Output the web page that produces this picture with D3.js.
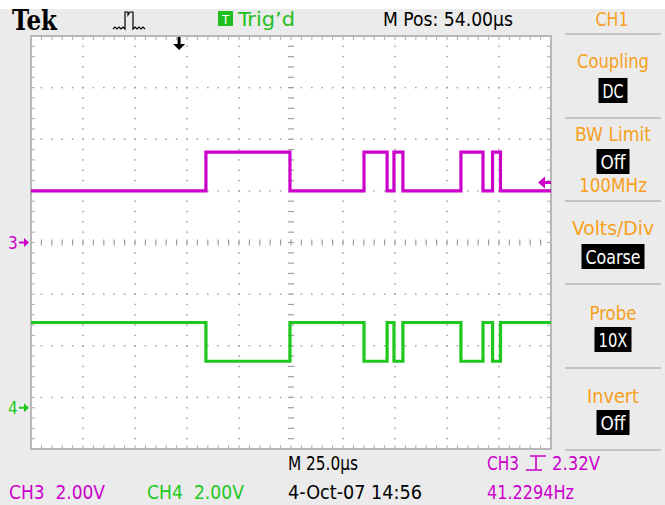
<!DOCTYPE html>
<html>
<head>
<meta charset="utf-8">
<script src="https://cdn.jsdelivr.net/npm/d3@7"></script>
<style>
  body { margin: 0; background: #fff; }
  svg { display: block; }
  text { font-family: "Liberation Sans Narrow", "DejaVu Sans Condensed", "Roboto Condensed", "Liberation Sans", Arial, sans-serif; white-space: pre; }
</style>
</head>
<body>
<svg id="scope" width="665" height="505"></svg>
<script>
// horizontal: microseconds from left edge of the screen, 25 us/div, 10 div
const timeDomain = [0, 250];
const timePerDiv = 25;
// vertical: divisions from the centre line
const divDomain = [-4, 4];
const voltsPerDiv = 2.0;
const ch3Offset = 0;      // ground marker "3", in divisions
const ch4Offset = -3.2;   // ground marker "4"

// edges (us) and the level that follows each edge (V)
const ch3Times = [0, 84.1, 124.5, 160.1, 171.2, 174.5, 178.8, 206.7, 217.3, 221.9, 225.7, 250];
const ch3Volts = [2.0, 3.5, 2.0, 3.5, 2.0, 3.5, 2.0, 3.5, 2.0, 3.5, 2.0, 2.0];
const ch4Times = [0, 84.1, 124.5, 160.1, 171.2, 174.5, 178.8, 206.7, 217.3, 221.9, 225.7, 250];
const ch4Volts = [3.3, 1.8, 3.3, 1.8, 3.3, 1.8, 3.3, 1.8, 3.3, 1.8, 3.3, 3.3];

const triggerTime = 71.2;
const triggerLevel = 2.32;

const menuTitles = ["Coupling", "BW Limit", "Volts/Div", "Probe", "Invert"];
const menuValues = ["DC", "Off", "Coarse", "10X", "Off"];

const MAGENTA = "#cc00cc", GREEN = "#1ec81e", ORANGE = "#f7a01c", GRID = "#a0a0a0";

const svg = d3.select("#scope");
const W = 665, H = 505;
const scrLeft = 31, scrRight = 551, scrTop = 36, scrBottom = 449;

svg.append("rect").attr("width", W).attr("height", H).attr("fill", "#ebebeb");
svg.append("rect").attr("width", W).attr("height", 9).attr("fill", "#fff");

const x = d3.scaleLinear().domain(timeDomain).range([scrLeft, scrRight]);
const y = d3.scaleLinear().domain(divDomain).range([scrBottom, scrTop]);
const ch3Y = v => y(v / voltsPerDiv + ch3Offset);
const ch4Y = v => y(v / voltsPerDiv + ch4Offset);

// screen
svg.append("rect").attr("x", scrLeft).attr("y", scrTop)
    .attr("width", scrRight - scrLeft).attr("height", scrBottom - scrTop)
    .attr("fill", "#fff").attr("stroke", "#b8b8b8").attr("stroke-width", 2);

// grid: dots along every major line, dashes on the centre cross, ticks on the border
const grid = svg.append("g");
const xMinor = d3.range(0, 250.01, timePerDiv / 5);
const yMinor = d3.range(-4, 4.01, 0.2).map(d => Math.round(d * 10) / 10);
const xMajor = d3.range(1, 10).map(d => d * timePerDiv);
const yMajor = [-3, -2, -1, 1, 2, 3];

yMajor.forEach(r => {
    grid.selectAll(null).data(xMinor.slice(1, -1)).enter().append("rect")
        .attr("x", d => x(d) - 0.75).attr("y", y(r) - 0.75)
        .attr("width", 1.5).attr("height", 1.5).attr("fill", GRID);
});
xMajor.filter(d => d !== 125).forEach(c => {
    grid.selectAll(null).data(yMinor.slice(1, -1)).enter().append("rect")
        .attr("x", x(c) - 0.75).attr("y", d => y(d) - 0.75)
        .attr("width", 1.5).attr("height", 1.5).attr("fill", GRID);
});
// centre cross
grid.selectAll(null).data(yMinor.slice(1, -1)).enter().append("line")
    .attr("x1", x(125) - 3).attr("x2", x(125) + 3)
    .attr("y1", d => y(d)).attr("y2", d => y(d))
    .attr("stroke", GRID).attr("stroke-width", 1.2);
grid.selectAll(null).data(xMinor.slice(1, -1)).enter().append("line")
    .attr("x1", d => x(d)).attr("x2", d => x(d))
    .attr("y1", y(0) - 3).attr("y2", y(0) + 3)
    .attr("stroke", GRID).attr("stroke-width", 1.2);
// border ticks
grid.selectAll(null).data(xMinor.slice(1, -1)).enter().append("line")
    .attr("x1", d => x(d)).attr("x2", d => x(d))
    .attr("y1", scrTop).attr("y2", scrTop + 4)
    .attr("stroke", "#b8b8b8").attr("stroke-width", 1.2);
grid.selectAll(null).data(xMinor.slice(1, -1)).enter().append("line")
    .attr("x1", d => x(d)).attr("x2", d => x(d))
    .attr("y1", scrBottom).attr("y2", scrBottom - 4)
    .attr("stroke", "#b8b8b8").attr("stroke-width", 1.2);
grid.selectAll(null).data(yMinor.slice(1, -1)).enter().append("line")
    .attr("x1", scrLeft).attr("x2", scrLeft + 4)
    .attr("y1", d => y(d)).attr("y2", d => y(d))
    .attr("stroke", "#b8b8b8").attr("stroke-width", 1.2);
grid.selectAll(null).data(yMinor.slice(1, -1)).enter().append("line")
    .attr("x1", scrRight).attr("x2", scrRight - 4)
    .attr("y1", d => y(d)).attr("y2", d => y(d))
    .attr("stroke", "#b8b8b8").attr("stroke-width", 1.2);

// traces
const ch3Line = d3.line().curve(d3.curveStepAfter)
    .x((d, i) => x(ch3Times[i])).y(d => ch3Y(d));
const ch4Line = d3.line().curve(d3.curveStepAfter)
    .x((d, i) => x(ch4Times[i])).y(d => ch4Y(d));

svg.append("path").datum(ch3Volts).attr("d", ch3Line)
    .attr("fill", "none").attr("stroke", MAGENTA).attr("stroke-width", 3.2);
svg.append("path").datum(ch4Volts).attr("d", ch4Line)
    .attr("fill", "none").attr("stroke", GREEN).attr("stroke-width", 3.2);

// trigger position arrow (top) and trigger level arrow (right)
const tx = x(triggerTime);
svg.append("path")
    .attr("d", `M${tx - 1.5},${scrTop + 1}h3v7h4.5l-6,6l-6,-6h4.5z`)
    .attr("fill", "#000");
const ty = ch3Y(triggerLevel);
svg.append("path")
    .attr("d", `M${scrRight - 13},${ty}l7,-6v4.5h6v3h-6v4.5z`)
    .attr("fill", MAGENTA);

// ground markers
function groundMarker(label, offset, color) {
    const gy = y(offset);
    svg.append("text").attr("x", 8).attr("y", gy + 6).attr("font-size", 17)
        .attr("fill", color).text(label);
    svg.append("path").attr("d", `M19,${gy - 1}h5v-3.5l5,4.5l-5,4.5v-3.5h-5z`).attr("fill", color);
}
groundMarker("3", ch3Offset, MAGENTA);
groundMarker("4", ch4Offset, GREEN);

// header
function txt(s, xx, yy, opts) {
    const t = svg.append("text").attr("x", xx).attr("y", yy)
        .attr("font-size", opts.size || 20).attr("fill", opts.fill || "#000").text(s);
    if (opts.anchor) t.attr("text-anchor", opts.anchor);
    if (opts.len) t.attr("textLength", opts.len).attr("lengthAdjust", "spacingAndGlyphs");
    if (opts.family) t.style("font-family", opts.family);
    if (opts.weight) t.attr("font-weight", opts.weight);
    return t;
}

txt("Tek", 12, 30, { size: 27, weight: "bold", family: "'DejaVu Serif', 'Liberation Serif', serif", len: 45 });
svg.append("path")
    .attr("d", "M113,29l2,-2l2,2l2,-2l2,2l2,-2l2,2V12h3v3l2,-3h3V29l2,-2l2,2l2,-2l2,2l2,-2l2,2")
    .attr("fill", "none").attr("stroke", "#000").attr("stroke-width", 1.2);
svg.append("rect").attr("x", 218).attr("y", 11).attr("width", 15).attr("height", 15).attr("fill", "#1fbf1f");
txt("T", 225.5, 24, { size: 13, fill: "#fff", anchor: "middle" });
txt("Trig\u2019d", 238, 26, { fill: "#1fbf1f", len: 57 });
txt("M Pos: 54.00\u00b5s", 383, 26, { len: 130 });
txt("CH1", 612, 26, { fill: ORANGE, anchor: "middle", len: 33 });

// side menu
const sepY = [34, 118, 201, 284, 368, 450];
sepY.forEach(s => svg.append("line").attr("x1", 565).attr("x2", 661)
    .attr("y1", s).attr("y2", s).attr("stroke", "#c4c4c4").attr("stroke-width", 2));

const titleY = [68, 141, 235, 320, 403];
const titleLen = [72, 76, 82, 47, 52];
const boxTop = [78, 149, 244, 327, 410];
const valueLen = [21, 25, 55, 29, 25];
const cx = 613;
menuTitles.forEach((t, i) => {
    txt(t, cx, titleY[i], { fill: ORANGE, anchor: "middle", len: titleLen[i] });
    const bw = valueLen[i] + 8;
    svg.append("rect").attr("x", cx - bw / 2).attr("y", boxTop[i])
        .attr("width", bw).attr("height", 25).attr("fill", "#000");
    txt(menuValues[i], cx, boxTop[i] + 20, { fill: "#fff", anchor: "middle", len: valueLen[i], size: 19 });
});
txt("100MHz", cx, 192, { fill: ORANGE, anchor: "middle", len: 68 });

// footer
txt("M 25.0\u00b5s", 288, 470, { len: 70 });
txt("CH3", 487, 470, { fill: MAGENTA, len: 32 });
svg.append("path").attr("d", "M526,470h10v-14h10M530,456h6M536,470h6")
    .attr("fill", "none").attr("stroke", MAGENTA).attr("stroke-width", 1.6);
txt("2.32V", 552, 470, { fill: MAGENTA, len: 48 });
txt("CH3  2.00V", 9, 499, { fill: MAGENTA, len: 96 });
txt("CH4  2.00V", 147, 499, { fill: GREEN, len: 97 });
txt("4-Oct-07 14:56", 288, 499, { len: 134 });
txt("41.2294Hz", 487, 499, { fill: MAGENTA, len: 87 });
</script>
</body>
</html>
